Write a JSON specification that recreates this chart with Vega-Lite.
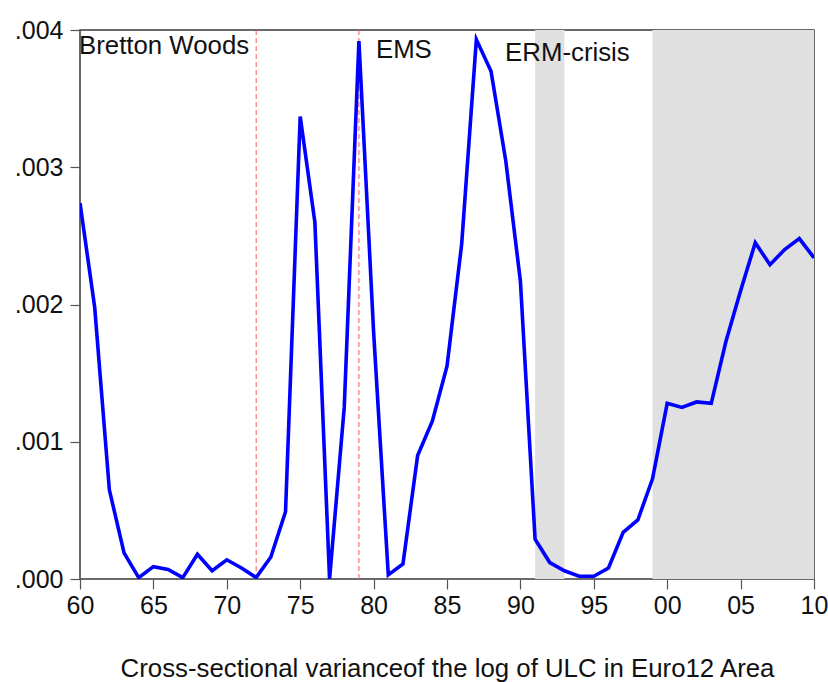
{
  "$schema": "https://vega.github.io/schema/vega-lite/v6.json",
  "width": 734,
  "height": 549,
  "autosize": {"type": "none"},
  "padding": {"left": 80, "top": 30, "right": 14, "bottom": 103},
  "background": "white",
  "config": {
    "view": {"stroke": "#3a3a3a", "strokeWidth": 1.5},
    "font": "Liberation Sans",
    "axis": {
      "grid": false,
      "domain": false,
      "ticks": true,
      "tickSize": 10,
      "tickColor": "#555555",
      "tickWidth": 1.2,
      "labelFont": "Liberation Sans",
      "labelFontSize": 25,
      "labelColor": "#111111",
      "titleFont": "Liberation Sans",
      "titleFontWeight": "normal",
      "titleColor": "#111111"
    }
  },
  "layer": [
    {
      "data": {"values": [
        {"from": 1991, "to": 1993},
        {"from": 1999, "to": 2010}
      ]},
      "mark": {"type": "rect", "color": "#e0e0e0"},
      "encoding": {
        "x": {"field": "from", "type": "quantitative",
              "scale": {"domain": [1960, 2010], "nice": false, "zero": false}},
        "x2": {"field": "to"}
      }
    },
    {
      "data": {"values": [
        {"year": 1972},
        {"year": 1979}
      ]},
      "mark": {"type": "rule", "color": "#ff5a5a", "strokeWidth": 1, "strokeDash": [5, 3]},
      "encoding": {
        "x": {"field": "year", "type": "quantitative"}
      }
    },
    {
      "data": {"values": [
        {"year": 1960, "variance": 0.00274},
        {"year": 1961, "variance": 0.00198},
        {"year": 1962, "variance": 0.00065},
        {"year": 1963, "variance": 0.00019},
        {"year": 1964, "variance": 0.00001},
        {"year": 1965, "variance": 0.00009},
        {"year": 1966, "variance": 0.00007},
        {"year": 1967, "variance": 0.00001},
        {"year": 1968, "variance": 0.00018},
        {"year": 1969, "variance": 0.00006},
        {"year": 1970, "variance": 0.00014},
        {"year": 1971, "variance": 0.00008},
        {"year": 1972, "variance": 0.00001},
        {"year": 1973, "variance": 0.00016},
        {"year": 1974, "variance": 0.00049},
        {"year": 1975, "variance": 0.00337},
        {"year": 1976, "variance": 0.00260},
        {"year": 1977, "variance": 0.00000},
        {"year": 1978, "variance": 0.00125},
        {"year": 1979, "variance": 0.00392},
        {"year": 1980, "variance": 0.00180},
        {"year": 1981, "variance": 0.00003},
        {"year": 1982, "variance": 0.00011},
        {"year": 1983, "variance": 0.00090},
        {"year": 1984, "variance": 0.00115},
        {"year": 1985, "variance": 0.00155},
        {"year": 1986, "variance": 0.00244},
        {"year": 1987, "variance": 0.00393},
        {"year": 1988, "variance": 0.00370},
        {"year": 1989, "variance": 0.00305},
        {"year": 1990, "variance": 0.00217},
        {"year": 1991, "variance": 0.00029},
        {"year": 1992, "variance": 0.00012},
        {"year": 1993, "variance": 0.00006},
        {"year": 1994, "variance": 0.00002},
        {"year": 1995, "variance": 0.00002},
        {"year": 1996, "variance": 0.00008},
        {"year": 1997, "variance": 0.00034},
        {"year": 1998, "variance": 0.00043},
        {"year": 1999, "variance": 0.00073},
        {"year": 2000, "variance": 0.00128},
        {"year": 2001, "variance": 0.00125},
        {"year": 2002, "variance": 0.00129},
        {"year": 2003, "variance": 0.00128},
        {"year": 2004, "variance": 0.00173},
        {"year": 2005, "variance": 0.00210},
        {"year": 2006, "variance": 0.00245},
        {"year": 2007, "variance": 0.00229},
        {"year": 2008, "variance": 0.00240},
        {"year": 2009, "variance": 0.00248},
        {"year": 2010, "variance": 0.00234}
      ]},
      "mark": {"type": "line", "color": "#0000ff", "strokeWidth": 3.6, "strokeJoin": "miter", "clip": true},
      "encoding": {
        "x": {"field": "year", "type": "quantitative",
              "axis": {
                "title": "Cross-sectional varianceof the log of ULC in Euro12 Area",
                "titleFontSize": 25.8,
                "titlePadding": 38,
                "values": [1960, 1965, 1970, 1975, 1980, 1985, 1990, 1995, 2000, 2005, 2010],
                "labelExpr": "slice(toString(datum.value), 2)",
                "labelPadding": 4,
                "labelFlush": false,
                "labelOverlap": false
              }},
        "y": {"field": "variance", "type": "quantitative",
              "scale": {"domain": [0, 0.004], "nice": false},
              "axis": {
                "title": null,
                "values": [0, 0.001, 0.002, 0.003, 0.004],
                "labelExpr": "replace(format(datum.value, '.3f'), '0.', '.')",
                "labelPadding": 7
              }}
      }
    },
    {
      "data": {"values": [{"label": "Bretton Woods", "year": 1960}]},
      "mark": {"type": "text", "align": "left", "baseline": "alphabetic", "dy": 24, "dx": -1,
               "font": "Liberation Sans", "fontSize": 25.8, "color": "#111111"},
      "encoding": {
        "x": {"field": "year", "type": "quantitative"},
        "y": {"datum": 0.004, "type": "quantitative"},
        "text": {"field": "label"}
      }
    },
    {
      "data": {"values": [{"label": "EMS", "year": 1979}]},
      "mark": {"type": "text", "align": "left", "baseline": "alphabetic", "dy": 28, "dx": 17,
               "font": "Liberation Sans", "fontSize": 25.8, "color": "#111111"},
      "encoding": {
        "x": {"field": "year", "type": "quantitative"},
        "y": {"datum": 0.004, "type": "quantitative"},
        "text": {"field": "label"}
      }
    },
    {
      "data": {"values": [{"label": "ERM-crisis", "year": 1991}]},
      "mark": {"type": "text", "align": "left", "baseline": "alphabetic", "dy": 31, "dx": -30,
               "font": "Liberation Sans", "fontSize": 25.8, "color": "#111111"},
      "encoding": {
        "x": {"field": "year", "type": "quantitative"},
        "y": {"datum": 0.004, "type": "quantitative"},
        "text": {"field": "label"}
      }
    }
  ]
}
